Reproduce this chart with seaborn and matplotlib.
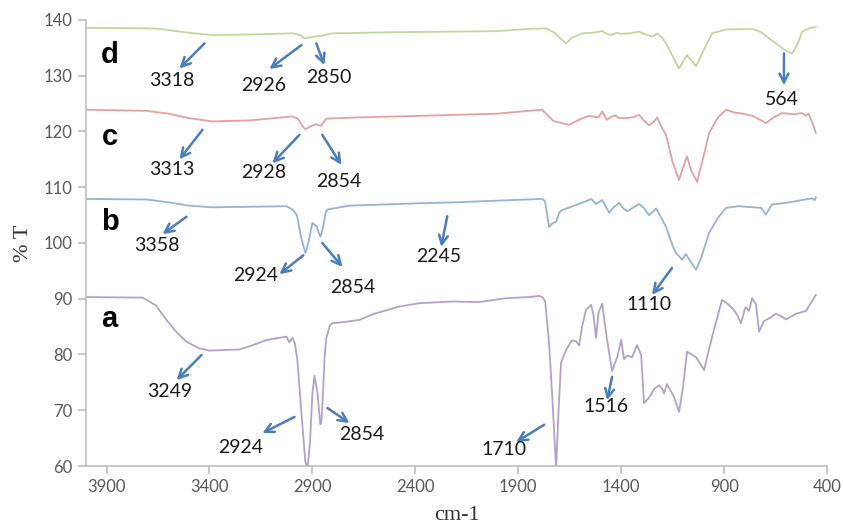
import pandas as pd
import matplotlib.pyplot as plt
import seaborn as sns

# wavenumber (cm-1) / transmittance (%T), one pair of lists per sample
a_x = [4000, 3725, 3660, 3609, 3560, 3512, 3450, 3400, 3254, 3180, 3123, 3026, 3012, 2997, 2985, 2973, 2950, 2935, 2924, 2912,
       2900, 2890, 2875, 2862, 2857, 2850, 2840, 2832, 2815, 2803, 2750, 2672, 2600, 2478, 2381, 2221, 2090, 1959, 1850, 1798,
       1780, 1769, 1750, 1734, 1716, 1704, 1692, 1668, 1640, 1620, 1604, 1590, 1571, 1546, 1534, 1522, 1510, 1492, 1470, 1444,
       1430, 1419, 1400, 1386, 1370, 1347, 1323, 1303, 1289, 1260, 1240, 1216, 1200, 1192, 1177, 1160, 1143, 1119, 1100, 1080,
       1036, 997, 958, 910, 880, 852, 835, 818, 800, 794, 779, 764, 745, 730, 706, 680, 648, 620, 599, 551, 502, 454]
a_y = [90.3, 90.2, 88.8, 86.2, 84.0, 82.3, 81.1, 80.7, 80.9, 81.8, 82.6, 83.2, 82.2, 83.0, 82.0, 79.0, 68.0, 61.0, 59.5, 64.0,
       73.0, 76.2, 73.0, 67.5, 67.7, 72.0, 80.0, 83.0, 85.2, 85.6, 85.8, 86.2, 87.3, 88.6, 89.2, 89.5, 89.4, 90.1, 90.3, 90.5,
       90.2, 89.5, 82.0, 72.0, 59.5, 70.0, 78.5, 80.8, 82.5, 82.4, 81.6, 85.0, 88.0, 88.9, 87.0, 83.0, 87.5, 89.1, 83.0, 77.0,
       78.5, 79.5, 82.6, 79.2, 79.8, 79.5, 81.7, 80.0, 71.3, 72.5, 73.8, 74.5, 73.8, 73.0, 74.7, 73.5, 72.4, 69.7, 74.0, 80.5,
       79.5, 77.2, 83.2, 89.8, 89.0, 88.0, 87.0, 85.6, 88.0, 88.5, 87.8, 90.1, 89.0, 84.1, 86.0, 86.5, 87.3, 86.8, 86.3, 87.3, 87.8, 90.7]

b_x = [4000, 3706, 3600, 3500, 3385, 3200, 3026, 2997, 2975, 2955, 2934, 2920, 2900, 2880, 2861, 2850, 2835, 2827, 2720, 2400,
       2200, 2000, 1784, 1770, 1750, 1735, 1716, 1700, 1687, 1620, 1570, 1546, 1522, 1492, 1458, 1440, 1410, 1390, 1370, 1340,
       1313, 1290, 1264, 1230, 1205, 1182, 1150, 1133, 1104, 1085, 1060, 1036, 1010, 973, 930, 890, 828, 760, 720, 697,
       668, 600, 521, 473, 460, 454]
b_y = [107.9, 107.8, 107.3, 106.7, 106.4, 106.5, 106.6, 106.0, 105.0, 101.0, 98.2, 100.0, 103.6, 103.0, 101.1, 102.5, 105.5, 106.0, 106.7, 107.1,
       107.3, 107.6, 107.9, 107.5, 102.9, 103.5, 103.8, 105.5, 105.9, 106.8, 107.5, 107.9, 107.0, 107.7, 105.4, 106.3, 107.2, 106.2, 105.7, 106.4,
       107.0, 106.3, 105.0, 106.2, 104.5, 102.9, 99.5, 98.2, 97.0, 98.0, 96.5, 95.2, 97.5, 101.8, 104.5, 106.3, 106.6, 106.4, 106.3, 105.1,
       106.9, 107.2, 107.7, 108.0, 107.7, 108.2]

c_x = [4000, 3706, 3600, 3500, 3385, 3200, 2997, 2970, 2950, 2934, 2905, 2881, 2860, 2832, 2700, 2381, 2000, 1850, 1784, 1760,
       1730, 1701, 1652, 1600, 1555, 1510, 1492, 1470, 1450, 1430, 1410, 1370, 1340, 1313, 1290, 1264, 1240, 1225, 1200, 1182,
       1150, 1119, 1100, 1080, 1060, 1031, 1000, 973, 930, 890, 850, 813, 760, 697, 660, 619, 560, 521, 502, 490, 470, 454]
c_y = [123.9, 123.7, 123.2, 122.4, 121.8, 122.0, 122.7, 122.3, 121.0, 120.4, 121.0, 121.3, 121.0, 122.3, 122.5, 122.8, 123.2, 123.7, 123.9, 123.0,
       121.9, 121.6, 121.2, 122.2, 122.8, 122.5, 123.6, 122.1, 122.6, 122.9, 122.4, 122.4, 122.6, 123.0, 122.0, 121.1, 121.8, 122.5, 120.5, 119.4,
       114.5, 111.3, 113.5, 115.5, 113.0, 111.0, 115.5, 119.7, 122.5, 123.9, 123.4, 123.2, 122.8, 121.5, 122.5, 123.3, 123.1, 123.3, 122.8, 123.2, 121.5, 119.7]

d_x = [4000, 3706, 3643, 3500, 3385, 3200, 2997, 2960, 2939, 2910, 2880, 2860, 2830, 2800, 2500, 2000, 1850, 1764, 1720, 1690,
       1667, 1640, 1589, 1540, 1492, 1470, 1450, 1420, 1400, 1360, 1313, 1280, 1250, 1225, 1200, 1182, 1150, 1119, 1100, 1080,
       1060, 1036, 1000, 958, 890, 764, 720, 682, 640, 600, 570, 545, 521, 480, 454]
d_y = [138.6, 138.5, 138.4, 137.7, 137.3, 137.4, 137.6, 137.3, 136.7, 136.9, 137.1, 137.1, 137.4, 137.6, 137.8, 138.0, 138.4, 138.5, 137.6, 136.5,
       135.8, 136.8, 137.6, 137.7, 138.0, 137.5, 137.3, 137.7, 137.5, 137.6, 137.9, 137.4, 137.0, 137.6, 136.8, 135.8, 133.5, 131.3, 132.5, 133.7,
       132.8, 131.7, 134.5, 137.6, 138.3, 138.4, 137.8, 136.7, 135.6, 134.5, 134.0, 135.5, 137.9, 138.6, 138.7]

samples = ["a", "b", "c", "d"]
colors = {"a": "#b3a2c7", "b": "#95b3d7", "c": "#e6a0a0", "d": "#c4d79b"}

# sample letter positions
letter_x = [3885, 3885, 3885, 3885]
letter_y = [86.4, 103.8, 119.0, 133.7]

# peak labels: text, text position, arrow tail, arrow head
peak_labels = ["3318", "2926", "2850", "564", "3313", "2928", "2854", "3358", "2924", "2854", "2245", "1110",
               "3249", "2924", "2854", "1710", "1516"]
label_x = [3584, 3138, 2818, 619, 3584, 3138, 2774, 3657, 3177, 2706, 2284, 1264, 3594, 3250, 2662, 1968, 1473]
label_y = [129.1, 128.2, 129.6, 125.8, 113.1, 112.6, 111.1, 99.5, 94.1, 92.1, 97.5, 88.9, 73.3, 63.4, 65.7, 63.0, 70.6]
tail_x = [3424, 2953, 2881, 609, 3434, 2963, 2852, 3512, 2944, 2852, 2245, 1153, 3439, 2987, 2827, 1774, 1444]
tail_y = [135.8, 135.5, 135.8, 134.0, 120.3, 119.4, 119.4, 104.7, 97.8, 100.0, 104.8, 95.5, 79.9, 68.8, 70.4, 67.4, 76.0]
head_x = [3546, 3109, 2842, 609, 3546, 3094, 2759, 3628, 3060, 2754, 2274, 1250, 3560, 3143, 2720, 1910, 1468]
head_y = [131.3, 131.2, 131.9, 128.3, 115.0, 114.3, 114.0, 101.6, 94.4, 95.7, 99.3, 90.7, 75.4, 65.9, 67.7, 64.3, 71.8]

xticks = [3900, 3400, 2900, 2400, 1900, 1400, 900, 400]
yticks = [60, 70, 80, 90, 100, 110, 120, 130, 140]

frames = []
for s, xs, ys in zip(samples, [a_x, b_x, c_x, d_x], [a_y, b_y, c_y, d_y]):
    frames.append(pd.DataFrame({"wavenumber": xs, "T": ys, "sample": s}))
df = pd.concat(frames, ignore_index=True)

sns.set_style("white")
plt.rcParams['font.family'] = ['Lato', 'DejaVu Sans']

fig = plt.figure(figsize=(8.43, 5.31), dpi=100)
ax = fig.add_axes([0.102, 0.1224, 0.879, 0.840])

sns.lineplot(data=df, x="wavenumber", y="T", hue="sample", palette=colors, estimator=None,
             linewidth=1.3, legend=False, ax=ax)

ax.set_xlim(4000, 400)
ax.set_ylim(60, 140)
ax.set_xticks(xticks)
ax.set_yticks(yticks)
ax.tick_params(axis="both", labelsize=12, labelcolor="#595959", colors="#bfbfbf",
               length=6, width=1.2, direction="out", bottom=True, left=True)
for lab in ax.get_xticklabels() + ax.get_yticklabels():
    lab.set_color("#595959")
for side in ["top", "right"]:
    ax.spines[side].set_visible(False)
for side in ["left", "bottom"]:
    ax.spines[side].set_color("#bfbfbf")
    ax.spines[side].set_linewidth(1.2)

ax.set_xlabel("cm-1", family="Liberation Serif", fontsize=16, color="#333333")
ax.set_ylabel("% T", family="Liberation Serif", fontsize=16, color="#333333")
ax.xaxis.set_label_coords(0.5, -0.09)
ax.yaxis.set_label_coords(-0.072, 0.5)

for s, lx, ly in zip(["a", "b", "c", "d"], letter_x, letter_y):
    ax.text(lx, ly, s, fontsize=21, fontweight="bold", family="Liberation Sans",
            ha="center", va="center", color="black")

for t, tx, ty, x0, y0, x1, y1 in zip(peak_labels, label_x, label_y, tail_x, tail_y, head_x, head_y):
    ax.annotate("", xy=(x1, y1), xytext=(x0, y0),
                arrowprops=dict(arrowstyle="->", color="#4a7ebb", lw=1.8,
                                mutation_scale=16, shrinkA=0, shrinkB=0))
    ax.text(tx, ty, t, fontsize=14, ha="center", va="center", color="#1a1a1a")

fig.savefig("out.png", dpi=100)
